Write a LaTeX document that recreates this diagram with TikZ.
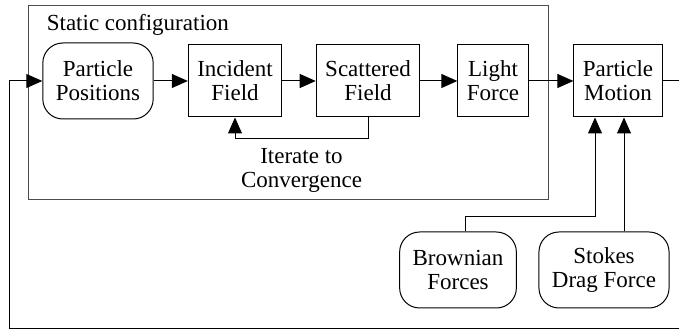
\documentclass[tikz,border=0pt]{standalone}
\usepackage{fontspec}
\setmainfont{Liberation Serif}
\usepackage{tikz}
\usetikzlibrary{arrows.meta}

\tikzset{
  block/.style={draw, align=center, minimum height=72pt, inner xsep=9pt},
  source/.style={block, rounded corners=20pt, minimum height=76pt, inner xsep=13pt},
}

\begin{document}
\begin{tikzpicture}[->, >={Triangle[length=16pt,width=14pt]}, line width=1pt, font=\fontsize{23}{24}\selectfont, x=1pt, y=1pt, node distance=133pt]
    \useasboundingbox (0,0) rectangle (679,331);
    \node (frame) [draw=black!70, minimum width=520pt, minimum height=194pt, anchor=north west] at (28,326) {};
    \node (title) [anchor=base west] at (43,300) {Static configuration};
    \node (positions) [source] at (98,250) {Particle\\Positions};
    \node (incident) [block, right of=positions, node distance=137pt] {Incident\\Field};
    \node (scattered) [block, right of=incident] {Scattered\\Field};
    \node (light) [block, right of=scattered, node distance=125pt] {Light\\Force};
    \node (motion) [block, right of=light, node distance=125pt] {Particle\\Motion};
    \node (brownian) [source, below of=light, node distance=189pt, xshift=-35pt] {Brownian\\Forces};
    \node (stokes) [source, right of=brownian, node distance=146pt] {Stokes\\Drag Force};
    \coordinate (loop) at (700,2);
    \coordinate (brown in) at ([xshift=-23pt]motion.south);
    \coordinate (stokes in) at ([xshift=6pt]motion.south);
    \path
    (positions) edge (incident)
    (incident) edge (scattered)
    (scattered) edge (light)
    (light) edge (motion)
    ;
    \draw (scattered.south) -- ++(0,-21) -| node[pos=0.25, below=6pt, align=center] {Iterate to\\Convergence} (incident.south);
    \draw ([xshift=7pt]brownian.north) -- ++(0,15) -| (brown in);
    \draw (stokes.north -| stokes in) -- (stokes in);
    \draw (motion.east) -| (loop) -| ([xshift=-33pt]positions.west) -- (positions.west);
\end{tikzpicture}
\end{document}
